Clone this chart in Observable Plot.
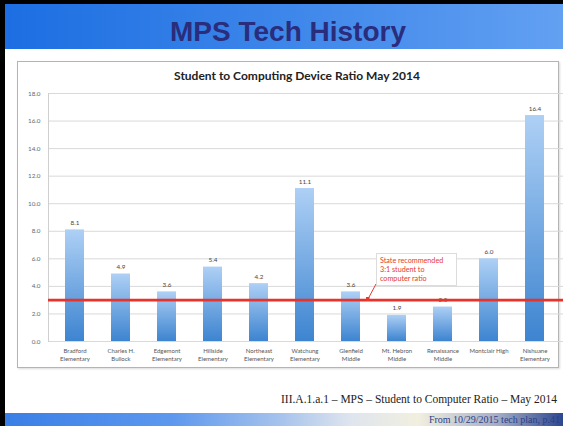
<!DOCTYPE html>
<html>
<head>
<meta charset="utf-8">
<script src="https://cdn.jsdelivr.net/npm/d3@7"></script>
<script src="https://cdn.jsdelivr.net/npm/@observablehq/plot@0.6"></script>
<style>
  html, body { margin: 0; padding: 0; background: #fff; }
  #slide { position: relative; width: 563px; height: 426px; overflow: hidden; background: #fff; }
  .blk-top { position: absolute; left: 0; top: 0; width: 563px; height: 4px; background: #000; }
  .blk-left { position: absolute; left: 0; top: 0; width: 5px; height: 426px; background: #000; }
  #header { position: absolute; left: 5px; top: 4px; width: 558px; height: 45px;
    background: linear-gradient(90deg, #1c6ee2 0%, #3d86ea 50%, #62a0f2 100%); }
  #header h1 { margin: 0; position: absolute; left: 4px; width: 100%; top: 13px; text-align: center;
    font: bold 28px "Liberation Sans", Arial, sans-serif; color: #2a2d7c; line-height: 30px; }
  #frame { position: absolute; left: 17px; top: 61px; width: 540px; height: 305px;
    border: 1px solid #b4b4b4; box-shadow: 1px 1px 2px rgba(0,0,0,0.15); background: #fff; }
  #chartTitle { position: absolute; left: 17px; width: 560px; top: 68px; text-align: center;
    font: bold 12px Lato, "Open Sans", sans-serif; color: #222; }
  #chart { position: absolute; left: 17px; top: 61px; }
  #note { position: absolute; left: 376px; top: 253px; width: 73px; height: 27px; padding: 2px 3px;
    border: 1px solid #dcdcdc; background: #fff; color: #e53a2e; font: 7.2px Lato, sans-serif; line-height: 9px; }
  #leader { position: absolute; left: 0; top: 0; }
  #caption { position: absolute; right: 6px; top: 393px; font: 11.5px "Liberation Serif", "Times New Roman", serif; color: #222; white-space: nowrap; }
  #footer { position: absolute; left: 5px; top: 413px; width: 558px; height: 13px;
    background: linear-gradient(90deg, #3a7fe6 0%, #5d98ee 30%, #a9c4ec 50%, #dfe5ee 62%, #f1efdf 74%, #a7aec6 88%, #2c478f 100%); }
  #source { position: absolute; right: 3px; top: 414px; font: 10px "Liberation Serif", "Times New Roman", serif; color: #2a3f88; white-space: nowrap; }
</style>
</head>
<body>
<div id="slide">
  <div id="header"><h1>MPS Tech History</h1></div>
  <div class="blk-top"></div>
  <div class="blk-left"></div>
  <div id="frame"></div>
  <div id="chartTitle">Student to Computing Device Ratio May 2014</div>
  <div id="chart"></div>
  <svg id="leader" width="563" height="426">
    <line x1="376" y1="284" x2="368" y2="299" stroke="#e53a2e" stroke-width="1"/>
    <rect x="366" y="297" width="3.5" height="3.5" fill="#e53a2e"/>
  </svg>
  <div id="note">State recommended<br>3:1 student to<br>computer ratio</div>
  <div id="caption">III.A.1.a.1 – MPS – Student to Computer Ratio – May 2014</div>
  <div id="footer"></div>
  <div id="source">From 10/29/2015 tech plan, p.41</div>
</div>
<script>
const schools = [
  "Bradford\nElementary", "Charles H.\nBullock", "Edgemont\nElementary", "Hillside\nElementary",
  "Northeast\nElementary", "Watchung\nElementary", "Glenfield\nMiddle", "Mt. Hebron\nMiddle",
  "Renaissance\nMiddle", "Montclair High", "Nishuane\nElementary"
];
const ratios = [8.1, 4.9, 3.6, 5.4, 4.2, 11.1, 3.6, 1.9, 2.5, 6.0, 16.4];
const yTicks = [0, 2, 4, 6, 8, 10, 12, 14, 16, 18];
const stateRatio = [3];

const data = schools.map((s, i) => ({school: s, ratio: ratios[i]}));

const chart = Plot.plot({
  width: 546,
  height: 306,
  marginLeft: 31,
  marginRight: 0,
  marginTop: 32,
  marginBottom: 26,
  style: {background: "transparent", fontFamily: "Lato, 'Open Sans', sans-serif"},
  x: {domain: schools, range: [31, 543], paddingInner: 0.59, paddingOuter: 0.295},
  y: {domain: [0, 18]},
  marks: [
    Plot.gridY(yTicks, {stroke: "#d9d9d9", strokeOpacity: 1}),
    Plot.frame({anchor: "left", stroke: "#cfcfcf"}),
    Plot.barY(data, {x: "school", y: "ratio", fill: "url(#barGrad)"}),
    Plot.text(data, {x: "school", y: "ratio", text: d => d.ratio.toFixed(1), dy: -7, fontSize: 6.3, fill: "#444"}),
    Plot.ruleY(stateRatio, {stroke: "#e8322a", strokeWidth: 2.6}),
    Plot.axisX({tickSize: 0, tickPadding: 5, fontSize: 6, lineHeight: 1.45, fill: "#555", label: null}),
    Plot.axisY({ticks: yTicks, tickFormat: d3.format(".1f"), tickSize: 0, tickPadding: 8, fontSize: 6.3, fill: "#666", label: null})
  ]
});

const defs = document.createElementNS("http://www.w3.org/2000/svg", "defs");
defs.innerHTML = '<linearGradient id="barGrad" x1="0" y1="0" x2="0" y2="1">' +
  '<stop offset="0" stop-color="#aed0f5"/><stop offset="1" stop-color="#3d84d0"/></linearGradient>';
chart.insertBefore(defs, chart.firstChild);
document.getElementById("chart").appendChild(chart);
</script>
</body>
</html>
